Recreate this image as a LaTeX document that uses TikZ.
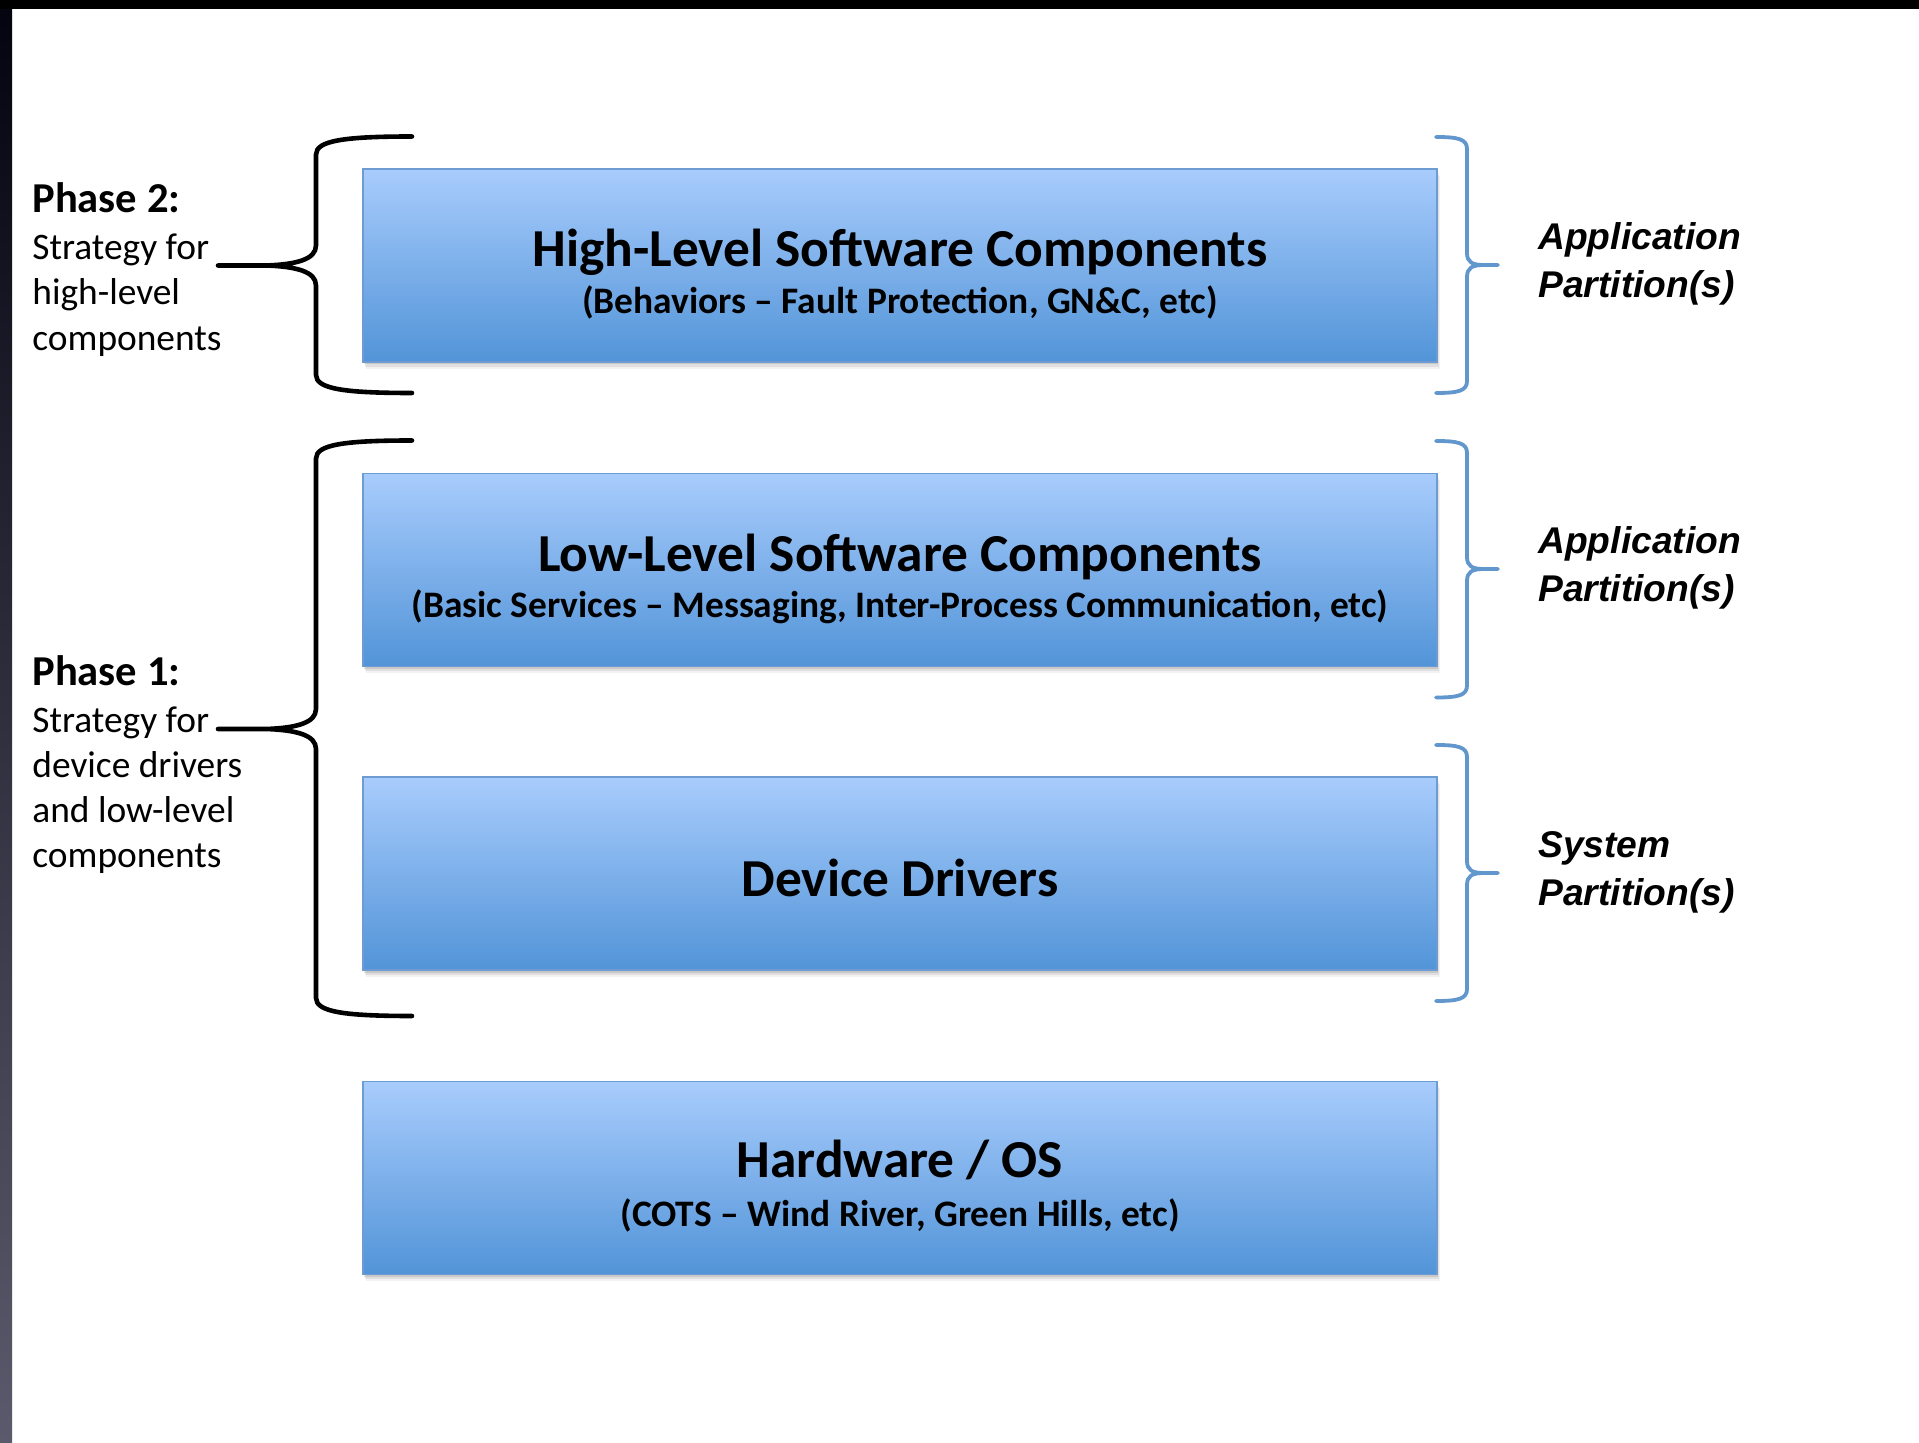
\documentclass[tikz,border=0pt]{standalone}
\usepackage{fontspec}
\setmainfont{Carlito}
\newfontfamily\labelfont{Liberation Sans}
\usetikzlibrary{calc}

\definecolor{boxtop}{RGB}{168,204,252}
\definecolor{boxbot}{RGB}{82,148,216}
\definecolor{boxedge}{RGB}{110,156,210}
\definecolor{bracecol}{RGB}{98,151,205}
\definecolor{striptop}{RGB}{4,4,16}
\definecolor{stripbot}{RGB}{90,90,108}

\tikzset{
  layer/.style={rectangle, minimum width=537pt, minimum height=96.5pt, inner sep=0pt,
    preaction={fill=black, fill opacity=0.10, transform canvas={xshift=0.6pt, yshift=-1.2pt}},
    preaction={fill=black, fill opacity=0.08, transform canvas={xshift=1.2pt, yshift=-2.4pt}},
    preaction={fill=black, fill opacity=0.05, transform canvas={xshift=1.6pt, yshift=-3.4pt}},
    top color=boxtop, bottom color=boxbot, draw=boxedge, line width=0.8pt},
  titletext/.style={anchor=base, inner sep=0pt, font=\bfseries\fontsize{26.7}{31}\selectfont},
  subtext/.style={anchor=base, inner sep=0pt, font=\bfseries\fontsize{18.7}{22}\selectfont},
  phasehead/.style={anchor=base west, inner sep=0pt, font=\bfseries\fontsize{21.3}{25}\selectfont},
  phaseline/.style={anchor=base west, inner sep=0pt, font=\fontsize{18.7}{22}\selectfont},
  partline/.style={anchor=base west, inner sep=0pt, font=\labelfont\bfseries\itshape\fontsize{18.6}{22}\selectfont},
  phasebr/.style={draw=black, line width=2.3pt, line cap=round, line join=round},
  partbr/.style={draw=bracecol, line width=1.9pt, line cap=round, line join=round},
}

% curly brace on the left: top y, tip y, bottom y
\newcommand\phasebrace[3]{%
  \draw[phasebr] (412,#1) .. controls (345,#1) and (316,#1+4) .. (316,#1+18)
    -- (316,#2-20) .. controls (316,#2-6) and (296,#2-1) .. (266,#2) -- (218,#2)
    -- (266,#2) .. controls (296,#2+1) and (316,#2+6) .. (316,#2+20)
    -- (316,#3-18) .. controls (316,#3-4) and (345,#3) .. (412,#3);}

% curly brace on the right: top y, tip y, bottom y
\newcommand\partbrace[3]{%
  \draw[partbr] (1436,#1) .. controls (1458,#1) and (1467,#1+2) .. (1467,#1+12)
    -- (1467,#2-12) .. controls (1467,#2-3) and (1472,#2) .. (1484,#2) -- (1498,#2)
    -- (1484,#2) .. controls (1472,#2) and (1467,#2+3) .. (1467,#2+12)
    -- (1467,#3-12) .. controls (1467,#3-2) and (1458,#3) .. (1436,#3);}

\begin{document}
\begin{tikzpicture}[x=0.5pt, y=-0.5pt]
  % page and frame
  \useasboundingbox (0,0) rectangle (1919,1443);
  \fill[white] (0,0) rectangle (1919,1443);
  \shade[top color=striptop, bottom color=stripbot] (0,0) rectangle (12,1443);
  \fill[black] (0,0) rectangle (1919,8.7);

  % software layers
  \node[layer] (hl) at (900,265.5) {};
  \node[layer] (ll) at (900,570) {};
  \node[layer] (dd) at (900,873.7) {};
  \node[layer] (hw) at (900,1178) {};

  \node[titletext] (hl-t) at ($(hl.center)+(0,1.5)$) {High-Level Software Components};
  \node[subtext]   (hl-s) at ($(hl.center)+(0,48)$) {(Behaviors – Fault Protection, GN\&C, etc)};
  \node[titletext] (ll-t) at ($(ll.center)+(0,1.5)$) {Low-Level Software Components};
  \node[subtext]   (ll-s) at ($(ll.center)+(0,48)$) {(Basic Services – Messaging, Inter-Process Communication, etc)};
  \node[titletext] (dd-t) at ($(dd.center)+(0,22.5)$) {Device Drivers};
  \node[titletext] (hw-t) at ($(hw.center)+(0,-1)$) {Hardware / OS};
  \node[subtext]   (hw-s) at ($(hw.center)+(0,48)$) {(COTS – Wind River, Green Hills, etc)};

  % phases on the left
  \phasebrace{136.5}{265.5}{393}
  \phasebrace{440.5}{729}{1016}

  \node[phasehead] (p2-h)  at (32,213) {Phase 2:};
  \node[phaseline] (p2-l1) at (32,259.5) {Strategy for};
  \node[phaseline] (p2-l2) at (32,305) {high-level};
  \node[phaseline] (p2-l3) at (32,351) {components};

  \node[phasehead] (p1-h)  at (32,686) {Phase 1:};
  \node[phaseline] (p1-l1) at (32,732.5) {Strategy for};
  \node[phaseline] (p1-l2) at (32,778) {device drivers};
  \node[phaseline] (p1-l3) at (32,823) {and low-level};
  \node[phaseline] (p1-l4) at (32,868) {components};

  % partitions on the right
  \partbrace{137}{265}{393}
  \partbrace{441}{569}{697.5}
  \partbrace{745}{873}{1001}

  \node[partline] (a1-l1) at (1538,250) {Application};
  \node[partline] (a1-l2) at (1538,297.5) {Partition(s)};
  \node[partline] (a2-l1) at (1538,554) {Application};
  \node[partline] (a2-l2) at (1538,601.5) {Partition(s)};
  \node[partline] (s1-l1) at (1538,858) {System};
  \node[partline] (s1-l2) at (1538,905.5) {Partition(s)};
\end{tikzpicture}
\end{document}
